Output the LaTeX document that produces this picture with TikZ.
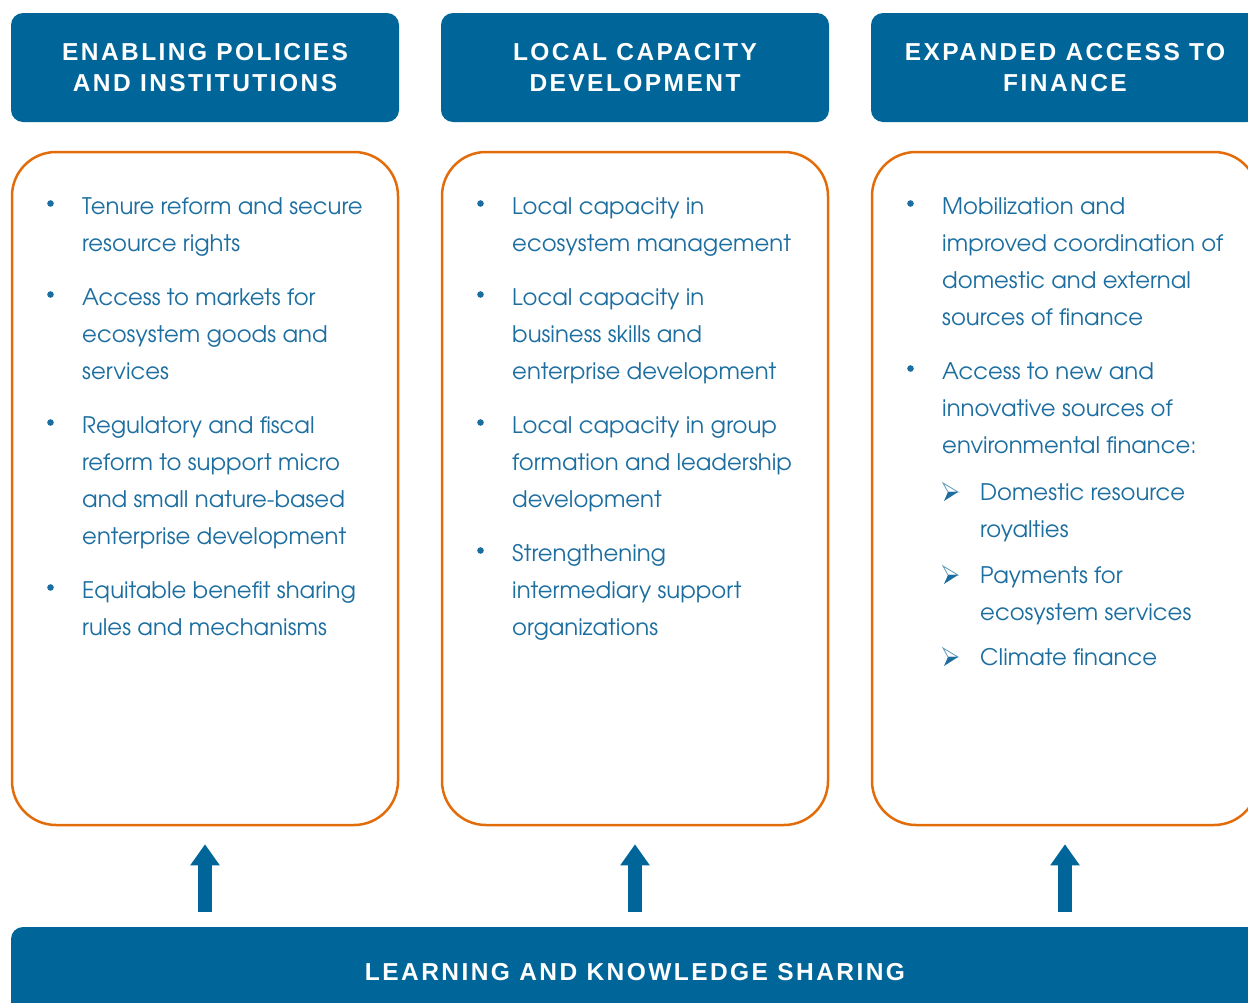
\documentclass[tikz,border=0pt]{standalone}
\usepackage{fontspec}
\setmainfont{texgyreadventor-regular.otf}
\newfontfamily\hdfont[LetterSpace=10]{Liberation Sans}
\usetikzlibrary{arrows.meta}
\definecolor{hblue}{HTML}{00669A}
\definecolor{tblue}{HTML}{1C6EA0}
\definecolor{borange}{HTML}{E36C0A}
\tikzset{
  header/.style={fill=hblue, rounded corners=12pt, minimum width=388pt, minimum height=109pt, inner sep=0pt, text=white, align=center, font=\hdfont\bfseries\fontsize{24.5}{31}\selectfont},
  panel/.style={draw=borange, line width=2.5pt, rounded corners=44pt, minimum width=386pt, minimum height=673pt, inner sep=0pt},
  item/.style={anchor=base west, inner sep=0pt, text=tblue, align=left, font=\fontsize{22.8}{37.3}\selectfont},
  dotmark/.style={fill=tblue},
  up/.style={draw=hblue, line width=14pt, -{Triangle[width=28pt,length=21pt]}},
  pics/arrowbullet/.style={code={
    \draw[tblue!70, line width=0.8pt, line join=miter] (-7,-9) -- (8,0) -- (-2,0) -- cycle;
    \fill[tblue] (-2,0) -- (8,0) -- (-6,9) -- cycle;
  }},
}
\begin{document}
\begin{tikzpicture}[x=1pt,y=-1pt]
\useasboundingbox (0,0) rectangle (1248,1002);
\fill[white] (0,0) rectangle (1248,1002);
\clip (0,0) rectangle (1248,1002);

% headers
\node[header] (h1) at (205,67.5) {ENABLING POLICIES\\AND INSTITUTIONS};
\node[header] (h2) at (635,67.5) {LOCAL CAPACITY\\DEVELOPMENT};
\node[header] (h3) at (1065,67.5) {EXPANDED ACCESS TO\\FINANCE};

% panels
\node[panel] (p1) at (205,488.5) {};
\node[panel] (p2) at (635,488.5) {};
\node[panel] (p3) at (1065,488.5) {};

% bottom bar
\node[header, minimum width=1248pt, minimum height=90pt] (bar) at (635,972) {LEARNING AND KNOWLEDGE SHARING};

% column 1 (nodes placed at the baseline of their last line)
\fill[dotmark] (50.5,203.5) circle (3.3);
\node[item] (c1a) at (82,251.3) {Tenure reform and secure\\resource rights};
\fill[dotmark] (50.5,294.5) circle (3.3);
\node[item] (c1b) at (82,379.6) {Access to markets for\\ecosystem goods and\\services};
\fill[dotmark] (50.5,422.5) circle (3.3);
\node[item] (c1c) at (82,544.9) {Regulatory and fiscal\\reform to support micro\\and small nature-based\\enterprise development};
\fill[dotmark] (50.5,587.5) circle (3.3);
\node[item] (c1d) at (82,635.3) {Equitable benefit sharing\\rules and mechanisms};

% column 2
\fill[dotmark] (480.5,203.5) circle (3.3);
\node[item] (c2a) at (512,251.3) {Local capacity in\\ecosystem management};
\fill[dotmark] (480.5,294.5) circle (3.3);
\node[item] (c2b) at (512,379.6) {Local capacity in\\business skills and\\enterprise development};
\fill[dotmark] (480.5,422.5) circle (3.3);
\node[item] (c2c) at (512,507.6) {Local capacity in group\\formation and leadership\\development};
\fill[dotmark] (480.5,550.5) circle (3.3);
\node[item] (c2d) at (512,635.6) {Strengthening\\intermediary support\\organizations};

% column 3
\fill[dotmark] (910.5,203.5) circle (3.3);
\node[item] (c3a) at (942,325.9) {Mobilization and\\improved coordination of\\domestic and external\\sources of finance};
\fill[dotmark] (910.5,368.5) circle (3.3);
\node[item] (c3b) at (942,453.6) {Access to new and\\innovative sources of\\environmental finance:};
\pic at (950,492) {arrowbullet};
\node[item] (s1) at (980,537.3) {Domestic resource\\royalties};
\pic at (950,575) {arrowbullet};
\node[item] (s2) at (980,620.3) {Payments for\\ecosystem services};
\pic at (950,657) {arrowbullet};
\node[item] (s3) at (980,665) {Climate finance};

% arrows
\draw[up] ([yshift=15pt]bar.north -| p1.south) -- ([yshift=-18pt]p1.south);
\draw[up] ([yshift=15pt]bar.north -| p2.south) -- ([yshift=-18pt]p2.south);
\draw[up] ([yshift=15pt]bar.north -| p3.south) -- ([yshift=-18pt]p3.south);
\end{tikzpicture}
\end{document}
